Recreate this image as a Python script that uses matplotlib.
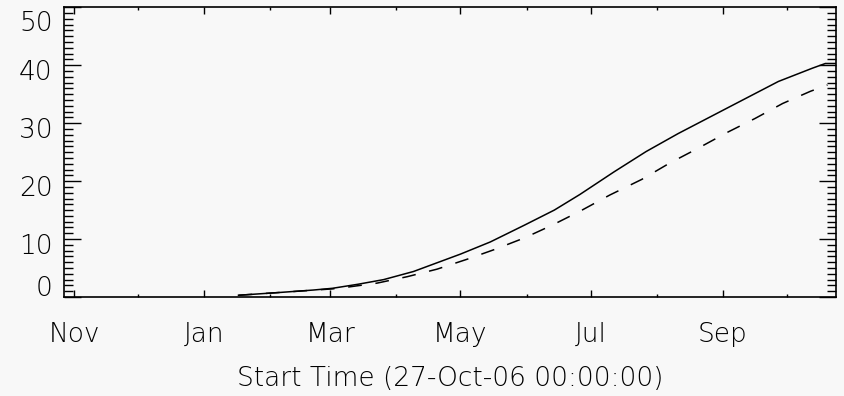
import matplotlib
matplotlib.use('Agg')
import matplotlib.pyplot as plt
import matplotlib.dates as mdates
from matplotlib.ticker import MultipleLocator
import datetime as dt

# ---- data ----
solid_dates = ['2007-01-17', '2007-02-06', '2007-02-21', '2007-03-02', '2007-03-14',
               '2007-03-26', '2007-04-09', '2007-04-20', '2007-05-01', '2007-05-15',
               '2007-05-31', '2007-06-14', '2007-06-26', '2007-07-12', '2007-07-27',
               '2007-08-11', '2007-09-04', '2007-09-27', '2007-10-13', '2007-10-19',
               '2007-10-24']
solid_values = [0.3, 0.8, 1.2, 1.5, 2.2, 3.0, 4.4, 5.9, 7.4, 9.5,
                12.4, 15.0, 17.7, 21.6, 25.1, 28.2, 32.8, 37.2, 39.5, 40.3,
                40.3]

dashed_dates = ['2007-01-17', '2007-02-06', '2007-03-02', '2007-03-09', '2007-03-23',
                '2007-04-06', '2007-04-20', '2007-05-04', '2007-05-17', '2007-05-31',
                '2007-06-13', '2007-06-26', '2007-07-10', '2007-07-25', '2007-08-07',
                '2007-08-20', '2007-09-03', '2007-09-16', '2007-09-29', '2007-10-12',
                '2007-10-20']
dashed_values = [0.3, 0.8, 1.4, 1.7, 2.4, 3.5, 4.8, 6.5, 8.2, 10.2,
                 12.4, 14.8, 17.6, 20.3, 23.1, 25.6, 28.4, 30.8, 33.4, 35.5,
                 36.6]

y_ticks = [0, 10, 20, 30, 40, 50]
x_start = '2006-10-27'
x_end = '2007-10-24'
x_label = 'Start Time (27-Oct-06 00:00:00)'


def to_dt(s):
    return dt.datetime.strptime(s, '%Y-%m-%d')


bg = '#f8f8f8'
fs = 19
fw = 'light'
plt.rcParams['font.family'] = ['DejaVu Sans']

fig = plt.figure(figsize=(8.44, 3.96), dpi=100, facecolor=bg)
ax = fig.add_axes([63.5 / 844, 1 - 297 / 396, (836 - 63.5) / 844, (297 - 7.3) / 396])
ax.set_facecolor(bg)

ax.plot([to_dt(d) for d in solid_dates], solid_values, color='black', lw=1.1,
        solid_joinstyle='miter')
ax.plot([to_dt(d) for d in dashed_dates], dashed_values, color='black', lw=1.1,
        linestyle=(0, (9, 9)))

ax.set_xlim(to_dt(x_start), to_dt(x_end))
ax.set_ylim(0, 50)

for sp in ax.spines.values():
    sp.set_color('black')
    sp.set_linewidth(1.2)

# x ticks
ax.xaxis.set_major_locator(mdates.MonthLocator(bymonth=[11, 1, 3, 5, 7, 9]))
ax.xaxis.set_minor_locator(mdates.MonthLocator())
ax.xaxis.set_major_formatter(mdates.DateFormatter('%b'))
ax.tick_params(axis='x', which='major', direction='in', length=5, width=1,
               top=True, bottom=True, labelsize=fs, pad=18, colors='black')
ax.tick_params(axis='x', which='minor', direction='in', length=2.2, width=1,
               top=True, bottom=True)
for lab in ax.get_xticklabels():
    lab.set_fontweight(fw)

# y ticks
ax.set_yticks(y_ticks)
ax.yaxis.set_minor_locator(MultipleLocator(1))
ax.tick_params(axis='y', which='major', direction='in', length=12.5, width=1,
               left=True, right=True, labelleft=False)
ax.tick_params(axis='y', which='minor', direction='in', length=6.5, width=1,
               left=True, right=True)

ytrans = ax.get_yaxis_transform()
for v in y_ticks:
    if v == y_ticks[0]:
        off = 8
    elif v == y_ticks[-1]:
        off = -16
    else:
        off = -7
    ax.annotate(str(v), xy=(0, v), xycoords=ytrans, xytext=(-11, off),
                textcoords='offset pixels', ha='right', va='center',
                fontsize=fs, fontweight=fw, color='black', annotation_clip=False)

ax.set_xlabel(x_label, fontsize=fs, fontweight=fw, labelpad=14, color='black')

fig.savefig('out.png', dpi=100, facecolor=bg)
